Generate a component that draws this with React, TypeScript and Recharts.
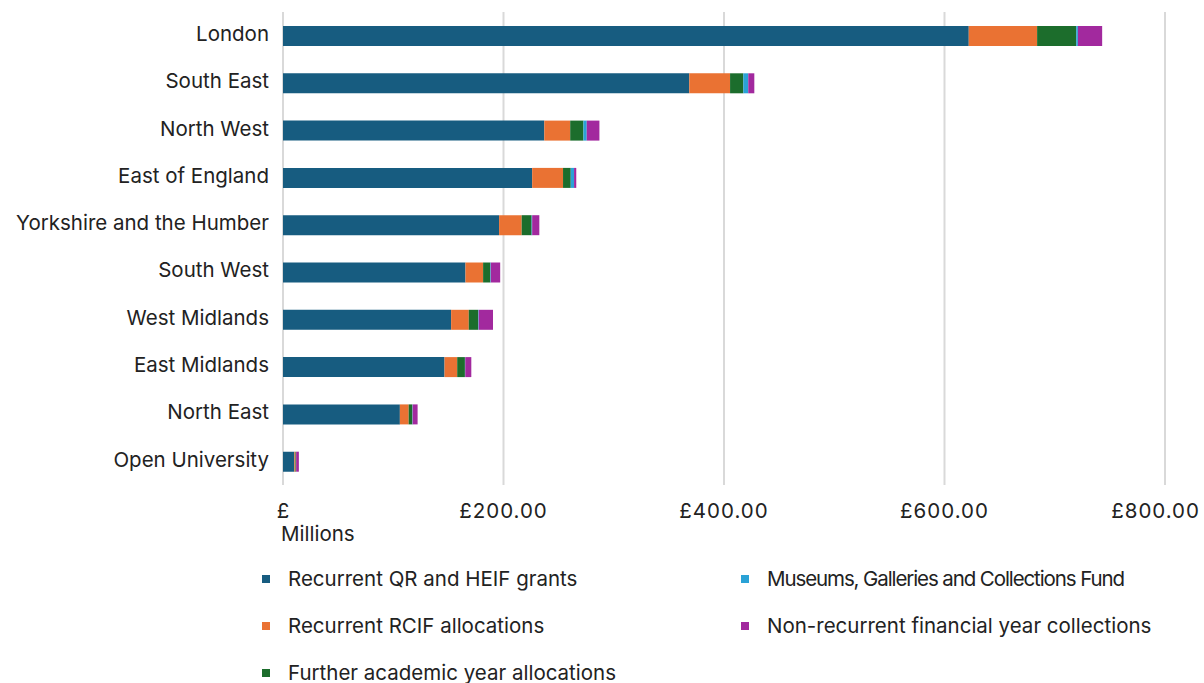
import { BarChart, Bar, XAxis, YAxis, CartesianGrid } from 'recharts';

const regions = [
  'London',
  'South East',
  'North West',
  'East of England',
  'Yorkshire and the Humber',
  'South West',
  'West Midlands',
  'East Midlands',
  'North East',
  'Open University',
];

// £ millions
const qrHeif = [622, 368.5, 237, 226, 196, 165.5, 152.5, 146.5, 106, 10.3];
const rcif = [62, 37, 23.5, 28, 20.5, 16, 16, 11.5, 8, 1];
const furtherYear = [35.5, 12, 12, 7, 9, 6.5, 8.5, 7, 3.3, 0.5];
const museums = [1.5, 4.5, 3, 3, 0.5, 0.5, 0.5, 0.3, 0.3, 0.1];
const nonRecurrent = [22, 5.5, 11.5, 2, 6.5, 8.5, 13, 5.5, 4.5, 2.5];

const xTicks = [0, 200, 400, 600, 800];

const series = [
  { key: 'qrHeif', name: 'Recurrent QR and HEIF grants', color: '#175c80' },
  { key: 'rcif', name: 'Recurrent RCIF allocations', color: '#ea7233' },
  { key: 'furtherYear', name: 'Further academic year allocations', color: '#1c6d2c' },
  { key: 'museums', name: 'Museums, Galleries and Collections Fund', color: '#2aa2d6' },
  { key: 'nonRecurrent', name: 'Non-recurrent financial year collections', color: '#a2299e' },
];

const data = regions.map((region, i) => ({
  region,
  qrHeif: qrHeif[i],
  rcif: rcif[i],
  furtherYear: furtherYear[i],
  museums: museums[i],
  nonRecurrent: nonRecurrent[i],
}));

const FONT = 'Inter, "Noto Sans", sans-serif';
const TEXT = '#222';

function RegionTick({ x, y, payload }: any) {
  return (
    <text x={x} y={y - 2} dy="0.355em" textAnchor="end" fill={TEXT} fontSize={20.5} fontFamily={FONT}>
      {payload.value}
    </text>
  );
}

function MoneyTick({ x, payload }: any) {
  const v = payload.value;
  if (v === 0) {
    return (
      <g>
        <text x={x} y={518} textAnchor="middle" fill={TEXT} fontSize={20.5} fontFamily={FONT}>£</text>
        <text x={x - 2} y={541} textAnchor="start" fill={TEXT} fontSize={20.5} fontFamily={FONT}>Millions</text>
      </g>
    );
  }
  const label = '£' + v.toFixed(2);
  const end = x + 55 > 1200;
  return (
    <text
      x={end ? 1200 : x}
      y={518}
      textAnchor={end ? 'end' : 'middle'}
      fill={TEXT}
      fontSize={20.5}
      letterSpacing={1}
      fontFamily={FONT}
    >
      {label}
    </text>
  );
}

function LegendItem({ name, color, spacing }: { name: string; color: string; spacing?: number }) {
  return (
    <div style={{ display: 'flex', alignItems: 'center', height: 47 }}>
      <span style={{ width: 8, height: 8, background: color, display: 'inline-block', marginRight: 18 }} />
      <span
        style={{ fontSize: 20.5, letterSpacing: spacing || 0, color: TEXT, fontFamily: FONT, whiteSpace: 'nowrap' }}
      >
        {name}
      </span>
    </div>
  );
}

export default function App() {
  const left = series.filter((_, i) => i < 3);
  const right = series.filter((_, i) => i >= 3);
  return (
    <div style={{ position: 'absolute', left: 0, top: 0, width: 1204, height: 683, background: '#fff' }}>
      <BarChart
        width={1204}
        height={550}
        data={data}
        layout="vertical"
        margin={{ top: 12, right: 39, left: 0, bottom: 0 }}
        barSize={20}
      >
        <CartesianGrid horizontal={false} stroke="#d9d9d9" strokeWidth={2} />
        <XAxis
          type="number"
          domain={[0, 800]}
          ticks={xTicks}
          axisLine={false}
          tickLine={false}
          height={65}
          tick={<MoneyTick />}
        />
        <YAxis
          type="category"
          dataKey="region"
          width={283}
          axisLine={false}
          tickLine={false}
          tickSize={0}
          tickMargin={14}
          interval={0}
          tick={<RegionTick />}
        />
        {series.map((s) => (
          <Bar key={s.key} dataKey={s.key} name={s.name} stackId="a" fill={s.color} isAnimationActive={false} />
        ))}
      </BarChart>
      <div style={{ position: 'absolute', left: 262, top: 555, display: 'flex' }}>
        <div style={{ width: 479 }}>
          {left.map((s) => (
            <LegendItem key={s.key} name={s.name} color={s.color} />
          ))}
        </div>
        <div>
          {right.map((s) => (
            <LegendItem key={s.key} name={s.name} color={s.color} spacing={s.key === 'museums' ? -1.1 : 0} />
          ))}
        </div>
      </div>
    </div>
  );
}
